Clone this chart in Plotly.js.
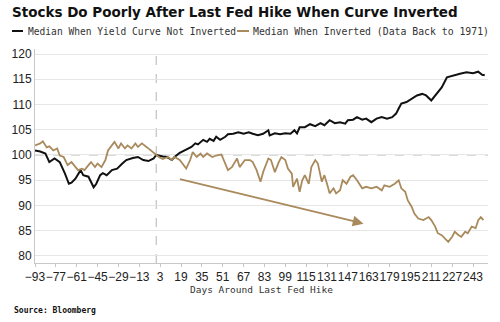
<!DOCTYPE html>
<html>
<head>
<meta charset="utf-8">
<script src="https://cdn.plot.ly/plotly-3.0.1.min.js"></script>
<style>html,body{margin:0;padding:0;background:#fff;}#chart{width:500px;height:322px;}</style>
</head>
<body>
<div id="chart"></div>
<script>
// ---- Data ----
const chartTitle = "Stocks Do Poorly After Last Fed Hike When Curve Inverted";
const seriesNames = ["Median When Yield Curve Not Inverted", "Median When Inverted (Data Back to 1971)"];
const xAxisTitle = "Days Around Last Fed Hike";
const sourceText = "Source: Bloomberg";

const notInvDays = [-93,-89,-85,-82,-78,-74,-70,-67,-65,-62,-58,-56,-52,-48,-46,-43,-41,-38,-34,-30,-26,-23,-18,-14,-10,-6,-2,0,5,8,12,14,18,23,27,30,32,36,39,41,44,46,49,53,55,59,63,67,71,74,78,82,86,87,91,95,99,103,106,108,110,114,118,122,126,129,133,137,141,145,147,151,154,158,161,165,169,173,177,181,184,186,188,192,196,200,204,207,211,215,219,223,228,233,238,243,247,250,252];
const notInvVals = [100.9,100.7,100.3,98.6,99.3,98.6,96.3,94.3,94.5,95.3,97.0,96.0,95.7,93.6,94.3,96.0,96.4,96.0,97.0,97.3,98.3,99.0,99.4,99.6,99.0,98.8,99.3,100.0,99.7,99.6,99.0,99.6,100.4,101.1,101.6,102.3,102.1,103.0,102.6,103.2,102.8,103.6,103.0,103.6,104.1,104.2,104.5,104.2,104.5,104.2,103.9,104.2,104.9,103.9,104.3,104.1,104.3,104.2,104.9,104.3,105.5,105.5,106.1,105.7,106.3,105.9,106.9,106.3,106.5,106.2,106.9,107.0,107.5,107.0,107.2,106.5,107.2,107.5,107.2,107.5,108.2,109.2,110.2,110.5,111.1,111.8,112.1,111.8,110.8,112.1,113.4,115.4,115.8,116.1,116.4,116.2,116.5,115.9,115.8];

const invDays = [-93,-89,-87,-84,-82,-79,-76,-74,-71,-68,-65,-62,-60,-57,-55,-52,-50,-47,-45,-42,-39,-37,-34,-32,-29,-27,-24,-22,-19,-16,-14,-11,-7,-4,-1,2,5,9,12,14,18,21,23,26,28,31,34,36,39,43,46,50,53,55,58,62,64,68,72,74,77,80,82,86,88,91,94,96,99,101,104,105,108,110,112,114,117,119,122,124,127,129,131,133,136,138,141,143,146,149,151,154,158,161,165,169,173,175,179,183,186,188,191,193,196,198,201,205,209,211,214,216,219,221,224,227,229,232,234,237,239,242,245,247,249,251];
const invVals = [101.9,102.3,102.7,101.5,101.7,100.9,101.3,99.9,99.6,98.0,98.6,97.6,97.0,97.3,97.0,98.0,98.6,97.6,98.3,97.6,99.0,100.9,101.9,102.6,101.3,102.3,101.3,101.9,101.3,102.3,101.6,102.3,101.5,100.9,100.3,99.6,99.2,99.6,99.0,99.6,99.0,98.0,97.3,99.0,100.6,99.6,100.3,99.6,100.3,99.6,99.9,100.1,98.3,97.0,97.6,99.3,97.6,99.0,99.0,98.6,97.0,94.7,96.6,99.3,99.0,96.6,98.6,99.6,99.0,97.3,96.3,93.7,95.3,92.7,95.0,96.0,94.3,97.6,99.0,98.3,94.7,96.0,94.3,92.4,93.4,92.4,93.0,95.0,94.3,95.7,96.0,95.0,93.4,93.7,93.4,93.7,93.0,94.0,93.7,94.3,95.0,93.4,92.7,91.0,89.7,88.4,87.4,87.1,87.7,87.1,85.8,84.5,84.1,83.5,82.8,83.8,84.8,84.1,83.8,84.8,84.5,85.8,85.5,87.1,87.7,87.1];

// trend arrow (data coords): start and end
const arrowStart = {day: 17, val: 95.3};
const arrowEnd = {day: 159, val: 86.4};

// ---- Styling ----
const BLACK = "#111111";
const GOLD = "#a98a5c";
const L = 35, R = 12, T = 49, B = 59, W = 500, H = 322;
const PW = W - L - R, PH = H - T - B;
const px = p => (p - L) / PW;          // pixel x -> paper x
const py = p => (H - B - p) / PH;      // pixel y -> paper y
const MONO = "DejaVu Sans Mono, monospace";

const traces = [
  {x: notInvDays, y: notInvVals, type: "scatter", mode: "lines", name: seriesNames[0],
   line: {color: BLACK, width: 2}, showlegend: false},
  {x: invDays, y: invVals, type: "scatter", mode: "lines", name: seriesNames[1],
   line: {color: GOLD, width: 1.8}, showlegend: false}
];

const layout = {
  width: W, height: H,
  margin: {l: L, r: R, t: T, b: B, pad: 0},
  paper_bgcolor: "#fff", plot_bgcolor: "#fff",
  title: {text: "<b>" + chartTitle + "</b>", x: 12 / W, xanchor: "left", xref: "container",
          y: 1 - 12 / H, yanchor: "middle", yref: "container",
          font: {family: "DejaVu Sans, sans-serif", size: 13.5, color: "#111"}},
  xaxis: {
    range: [-93, 254.5], tick0: -93, dtick: 16, tickmode: "linear", tickangle: 0,
    showgrid: false, zeroline: false, showline: true, linecolor: "#c8c8c8", linewidth: 1,
    ticks: "outside", ticklen: 3, tickcolor: "#c8c8c8",
    tickfont: {family: "Liberation Sans, Arial, sans-serif", size: 12, color: "#222"},
    title: {text: xAxisTitle, standoff: 0, font: {family: MONO, size: 9.5, color: "#333"}}
  },
  yaxis: {
    range: [78.6, 121], tick0: 80, dtick: 5, tickmode: "linear",
    showgrid: true, gridcolor: "#e6e6e6", gridwidth: 1, zeroline: false,
    showline: true, linecolor: "#c8c8c8", linewidth: 1, ticks: "", ticklen: 3,
    tickfont: {family: "Liberation Sans, Arial, sans-serif", size: 12, color: "#222"}
  },
  shapes: [
    {type: "line", xref: "x", yref: "y", x0: -93, x1: 254.5, y0: 100, y1: 100,
     line: {color: "#b5b5b5", width: 1, dash: "dash"}, layer: "below"},
    {type: "line", xref: "x", yref: "paper", x0: 0, x1: 0, y0: 0, y1: 1,
     line: {color: "#b5b5b5", width: 1, dash: "dash"}, layer: "below"},
    {type: "line", xref: "paper", yref: "paper", x0: px(12), x1: px(23), y0: py(31), y1: py(31),
     line: {color: BLACK, width: 2}},
    {type: "line", xref: "paper", yref: "paper", x0: px(237), x1: px(249), y0: py(31), y1: py(31),
     line: {color: GOLD, width: 2}}
  ],
  annotations: [
    {xref: "paper", yref: "paper", x: px(26), y: py(31), xanchor: "left", yanchor: "middle",
     text: seriesNames[0], showarrow: false, font: {family: MONO, size: 9.6, color: "#333"}},
    {xref: "paper", yref: "paper", x: px(251), y: py(31), xanchor: "left", yanchor: "middle",
     text: seriesNames[1], showarrow: false, font: {family: MONO, size: 9.8, color: "#333"}},
    {xref: "paper", yref: "paper", x: px(12), y: py(310), xanchor: "left", yanchor: "middle",
     text: "<b>" + sourceText + "</b>", showarrow: false, font: {family: MONO, size: 8, color: "#111"}},
    {xref: "x", yref: "y", axref: "x", ayref: "y",
     x: arrowEnd.day, y: arrowEnd.val, ax: arrowStart.day, ay: arrowStart.val,
     showarrow: true, arrowhead: 2, arrowsize: 1.2, arrowwidth: 1.8, arrowcolor: GOLD, text: ""}
  ]
};

Plotly.newPlot("chart", traces, layout, {displayModeBar: false, staticPlot: true});
</script>
</body>
</html>
